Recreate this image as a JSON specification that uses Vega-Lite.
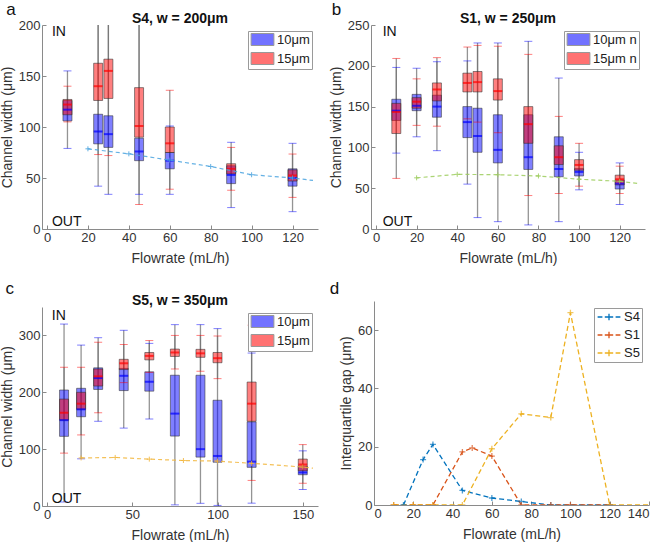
{
  "$schema": "https://vega.github.io/schema/vega-lite/v6.json",
  "padding": {"left": 0, "top": 1, "right": 0, "bottom": 0},
  "columns": 2,
  "align": "none",
  "spacing": {"row": 15, "column": 11},
  "resolve": {"scale": {"fill": "independent", "color": "independent"}, "legend": {"fill": "independent", "color": "independent"}},
  "config": {
    "font": "Liberation Sans",
    "view": {"stroke": null},
    "axis": {"domainColor": "#8a8a8a", "tickColor": "#8a8a8a", "labelColor": "#333333", "titleColor": "#333333", "labelFontSize": 13, "titleFontSize": 14, "titleFontWeight": "normal", "grid": false, "tickSize": -4, "labelPadding": 6},
    "axisY": {"titlePadding": 4},
    "axisX": {"titlePadding": 7},
    "title": {"fontSize": 14, "fontWeight": "bold", "color": "#111111", "offset": -25, "frame": "group"},
    "legend": {"title": null, "orient": "top-right", "offset": 6, "strokeColor": "#9a9a9a", "fillColor": "white", "padding": 2, "labelFontSize": 13, "labelColor": "#222222", "rowPadding": 2}
  },
  "datasets": {
    "boxA": [
      {"f": 10, "g": "10μm", "lo": 79, "q1": 106, "med": 117, "q3": 126, "hi": 155},
      {"f": 10, "g": "15μm", "lo": 105, "q1": 112, "med": 122, "q3": 127, "hi": 140},
      {"f": 25, "g": "10μm", "lo": 42, "q1": 83.5, "med": 95.6, "q3": 112.5, "hi": 230},
      {"f": 25, "g": "15μm", "lo": 73, "q1": 126, "med": 140, "q3": 162.5, "hi": 215},
      {"f": 30, "g": "10μm", "lo": 34, "q1": 80, "med": 93, "q3": 111, "hi": 240},
      {"f": 30, "g": "15μm", "lo": 72, "q1": 128, "med": 155, "q3": 166.5, "hi": 220},
      {"f": 45, "g": "10μm", "lo": 34, "q1": 67, "med": 76, "q3": 89, "hi": 210},
      {"f": 45, "g": "15μm", "lo": 24, "q1": 90, "med": 101, "q3": 138.6, "hi": 230},
      {"f": 60, "g": "10μm", "lo": 34, "q1": 59, "med": 67, "q3": 75, "hi": 101},
      {"f": 60, "g": "15μm", "lo": 39, "q1": 75, "med": 84, "q3": 100, "hi": 136},
      {"f": 90, "g": "10μm", "lo": 21, "q1": 44.5, "med": 53, "q3": 62, "hi": 85},
      {"f": 90, "g": "15μm", "lo": 38, "q1": 54, "med": 59, "q3": 64, "hi": 80},
      {"f": 120, "g": "10μm", "lo": 17, "q1": 42, "med": 50, "q3": 59, "hi": 84},
      {"f": 120, "g": "15μm", "lo": 31, "q1": 47, "med": 52.5, "q3": 58, "hi": 73.5}
    ],
    "thrA": [
      {"f": 20, "v": 78.6}, {"f": 40, "v": 73.7}, {"f": 60, "v": 67.5}, {"f": 80, "v": 61.3},
      {"f": 100, "v": 53.2}, {"f": 120, "v": 50}, {"f": 130, "v": 47.6}
    ],
    "boxB": [
      {"f": 10, "g": "10μm", "lo": 93, "q1": 133, "med": 145, "q3": 159, "hi": 198},
      {"f": 10, "g": "15μm", "lo": 62, "q1": 117, "med": 143.5, "q3": 154, "hi": 209},
      {"f": 20, "g": "10μm", "lo": 113, "q1": 145, "med": 151, "q3": 165, "hi": 197},
      {"f": 20, "g": "15μm", "lo": 127, "q1": 148, "med": 156, "q3": 161, "hi": 184},
      {"f": 30, "g": "10μm", "lo": 96, "q1": 137, "med": 150, "q3": 164, "hi": 205},
      {"f": 30, "g": "15μm", "lo": 126, "q1": 157, "med": 171, "q3": 179, "hi": 210},
      {"f": 45, "g": "10μm", "lo": 55, "q1": 112, "med": 131, "q3": 150, "hi": 206},
      {"f": 45, "g": "15μm", "lo": 135, "q1": 168, "med": 179, "q3": 191, "hi": 223},
      {"f": 50, "g": "10μm", "lo": 14, "q1": 94, "med": 114, "q3": 148, "hi": 228},
      {"f": 50, "g": "15μm", "lo": 131, "q1": 168, "med": 180, "q3": 193, "hi": 225},
      {"f": 60, "g": "10μm", "lo": 9, "q1": 81, "med": 97, "q3": 140, "hi": 228},
      {"f": 60, "g": "15μm", "lo": 118, "q1": 158, "med": 169, "q3": 184, "hi": 224},
      {"f": 75, "g": "10μm", "lo": 5, "q1": 73, "med": 88, "q3": 140, "hi": 230},
      {"f": 75, "g": "15μm", "lo": 41, "q1": 105, "med": 128.5, "q3": 150, "hi": 214},
      {"f": 90, "g": "10μm", "lo": 9, "q1": 64, "med": 73.5, "q3": 113, "hi": 185},
      {"f": 90, "g": "15μm", "lo": 43.5, "q1": 79, "med": 88, "q3": 102, "hi": 138},
      {"f": 100, "g": "10μm", "lo": 48, "q1": 65, "med": 70, "q3": 74, "hi": 94},
      {"f": 100, "g": "15μm", "lo": 52.5, "q1": 72, "med": 78.5, "q3": 85, "hi": 105},
      {"f": 120, "g": "10μm", "lo": 30, "q1": 49, "med": 55.5, "q3": 60, "hi": 81},
      {"f": 120, "g": "15μm", "lo": 43.5, "q1": 54, "med": 61, "q3": 66, "hi": 77}
    ],
    "thrB": [
      {"f": 20, "v": 62.7}, {"f": 40, "v": 67}, {"f": 60, "v": 66.5}, {"f": 80, "v": 65},
      {"f": 100, "v": 61}, {"f": 120, "v": 58.5}, {"f": 130, "v": 55.4}
    ],
    "boxC": [
      {"f": 10, "g": "10μm", "lo": 7, "q1": 122.5, "med": 151, "q3": 204, "hi": 320},
      {"f": 10, "g": "15μm", "lo": 93, "q1": 151, "med": 164, "q3": 188, "hi": 244},
      {"f": 20, "g": "10μm", "lo": 83, "q1": 157, "med": 170, "q3": 207, "hi": 283},
      {"f": 20, "g": "15μm", "lo": 125, "q1": 170, "med": 180, "q3": 200, "hi": 244},
      {"f": 30, "g": "10μm", "lo": 149, "q1": 205, "med": 225, "q3": 243, "hi": 296},
      {"f": 30, "g": "15μm", "lo": 164, "q1": 211, "med": 228, "q3": 241, "hi": 288},
      {"f": 45, "g": "10μm", "lo": 137, "q1": 203, "med": 229, "q3": 242, "hi": 309},
      {"f": 45, "g": "15μm", "lo": 217, "q1": 240, "med": 251, "q3": 258, "hi": 284},
      {"f": 60, "g": "10μm", "lo": 153, "q1": 202, "med": 218.5, "q3": 236, "hi": 286},
      {"f": 60, "g": "15μm", "lo": 235, "q1": 257, "med": 264, "q3": 270, "hi": 291},
      {"f": 75, "g": "10μm", "lo": 2, "q1": 123, "med": 162.5, "q3": 230, "hi": 319},
      {"f": 75, "g": "15μm", "lo": 241, "q1": 263, "med": 270, "q3": 276, "hi": 300},
      {"f": 90, "g": "10μm", "lo": 4.7, "q1": 86, "med": 100, "q3": 230, "hi": 319},
      {"f": 90, "g": "15μm", "lo": 237, "q1": 261.5, "med": 268.5, "q3": 275.5, "hi": 300},
      {"f": 100, "g": "10μm", "lo": 1, "q1": 77, "med": 88, "q3": 186, "hi": 312},
      {"f": 100, "g": "15μm", "lo": 224, "q1": 252, "med": 260, "q3": 270, "hi": 299},
      {"f": 120, "g": "10μm", "lo": 5, "q1": 68, "med": 78, "q3": 148, "hi": 269},
      {"f": 120, "g": "15μm", "lo": 45, "q1": 149, "med": 180, "q3": 218, "hi": 318},
      {"f": 150, "g": "10μm", "lo": 29, "q1": 55, "med": 59, "q3": 70, "hi": 97},
      {"f": 150, "g": "15μm", "lo": 40, "q1": 62, "med": 73, "q3": 82.5, "hi": 108}
    ],
    "thrC": [
      {"f": 20, "v": 84.5}, {"f": 40, "v": 85.4}, {"f": 60, "v": 82.4}, {"f": 80, "v": 80},
      {"f": 100, "v": 79}, {"f": 120, "v": 75}, {"f": 150, "v": 68.5}, {"f": 156, "v": 66.5}
    ],
    "gap": [
      {"s": "S4", "f": 15, "v": 0}, {"s": "S4", "f": 25, "v": 15.6}, {"s": "S4", "f": 30, "v": 20.8},
      {"s": "S4", "f": 45, "v": 5}, {"s": "S4", "f": 60, "v": 2.4}, {"s": "S4", "f": 75, "v": 1.2},
      {"s": "S4", "f": 90, "v": 0}, {"s": "S4", "f": 120, "v": 0},
      {"s": "S1", "f": 10, "v": 0}, {"s": "S1", "f": 20, "v": 0}, {"s": "S1", "f": 30, "v": 0},
      {"s": "S1", "f": 45, "v": 18.2}, {"s": "S1", "f": 50, "v": 19.6}, {"s": "S1", "f": 60, "v": 16.8},
      {"s": "S1", "f": 75, "v": 0}, {"s": "S1", "f": 90, "v": 0}, {"s": "S1", "f": 100, "v": 0},
      {"s": "S1", "f": 120, "v": 0},
      {"s": "S5", "f": 10, "v": 0}, {"s": "S5", "f": 20, "v": 0}, {"s": "S5", "f": 30, "v": 0},
      {"s": "S5", "f": 45, "v": 0}, {"s": "S5", "f": 60, "v": 19.3}, {"s": "S5", "f": 75, "v": 31.3},
      {"s": "S5", "f": 90, "v": 30}, {"s": "S5", "f": 100, "v": 66}, {"s": "S5", "f": 120, "v": 0},
      {"s": "S5", "f": 150, "v": 0}
    ]
  },
  "concat": [
    {
      "width": 276, "height": 204,
      "title": {"text": "S4, w = 200μm"},
      "encoding": {"x": {"field": "f", "type": "quantitative", "title": "Flowrate (mL/h)", "scale": {"domain": [0, 130], "nice": false, "zero": false}, "axis": {"values": [0, 20, 40, 60, 80, 100, 120]}}},
      "layer": [
        {"data": {"name": "boxA"}, "mark": {"type": "rule", "color": "#707070", "strokeWidth": 1.3, "opacity": 0.75, "clip": true},
         "encoding": {"y": {"field": "lo", "type": "quantitative", "title": "Channel width (μm)", "scale": {"domain": [0, 200], "nice": false}, "axis": {"values": [0, 50, 100, 150, 200]}}, "y2": {"field": "hi"}}},
        {"data": {"name": "boxA"}, "mark": {"type": "bar", "size": 9, "fillOpacity": 0.5, "stroke": "#303030", "strokeOpacity": 0.55, "strokeWidth": 1, "clip": true},
         "encoding": {"y": {"field": "q1", "type": "quantitative", "title": "Channel width (μm)", "scale": {"domain": [0, 200], "nice": false}}, "y2": {"field": "q3"},
           "fill": {"field": "g", "type": "nominal", "scale": {"domain": ["10μm", "15μm"], "range": ["#0000ff", "#ff0000"]},
             "legend": {"symbolType": "M-1.9,-1H1.9V1H-1.9Z", "symbolSize": 144, "symbolOffset": 6, "labelOffset": 8, "symbolOpacity": 0.55, "symbolStrokeColor": "#444444", "symbolStrokeWidth": 1}}}},
        {"data": {"name": "boxA"}, "mark": {"type": "tick", "orient": "horizontal", "size": 9, "thickness": 2},
         "encoding": {"y": {"field": "med", "type": "quantitative", "title": "Channel width (μm)", "scale": {"domain": [0, 200], "nice": false}},
           "color": {"field": "g", "type": "nominal", "scale": {"domain": ["10μm", "15μm"], "range": ["#0000ff", "#ff0000"]}, "legend": null}}},
        {"data": {"name": "boxA"}, "mark": {"type": "tick", "orient": "horizontal", "size": 8, "thickness": 1, "opacity": 0.5, "clip": true},
         "encoding": {"y": {"field": "lo", "type": "quantitative", "title": "Channel width (μm)", "scale": {"domain": [0, 200], "nice": false}},
           "color": {"field": "g", "type": "nominal", "scale": {"domain": ["10μm", "15μm"], "range": ["#0000ff", "#ff0000"]}, "legend": null}}},
        {"data": {"name": "boxA"}, "mark": {"type": "tick", "orient": "horizontal", "size": 8, "thickness": 1, "opacity": 0.5, "clip": true},
         "encoding": {"y": {"field": "hi", "type": "quantitative", "title": "Channel width (μm)", "scale": {"domain": [0, 200], "nice": false}},
           "color": {"field": "g", "type": "nominal", "scale": {"domain": ["10μm", "15μm"], "range": ["#0000ff", "#ff0000"]}, "legend": null}}},
        {"data": {"name": "thrA"}, "mark": {"type": "line", "color": "#4aa3df", "strokeDash": [4, 3], "strokeWidth": 1.2, "opacity": 0.85, "clip": true},
         "encoding": {"y": {"field": "v", "type": "quantitative", "title": "Channel width (μm)", "scale": {"domain": [0, 200], "nice": false}}}},
        {"data": {"name": "thrA"}, "transform": [{"filter": "datum.f < 125"}], "mark": {"type": "point", "shape": "M-1,0H1M0,-1V1", "size": 25, "filled": false, "color": "#4aa3df", "strokeWidth": 1, "opacity": 0.85},
         "encoding": {"y": {"field": "v", "type": "quantitative", "title": "Channel width (μm)", "scale": {"domain": [0, 200], "nice": false}}}},
        {"data": {"values": [{"f": 2.4, "v": 193, "t": "IN"}, {"f": 2.4, "v": 7, "t": "OUT"}]}, "mark": {"type": "text", "fontSize": 14, "align": "left", "baseline": "middle", "color": "#111111"},
         "encoding": {"y": {"field": "v", "type": "quantitative", "title": "Channel width (μm)", "scale": {"domain": [0, 200], "nice": false}}, "text": {"field": "t"}}},
        {"data": {"values": [{"f": -17.6, "v": 214.7, "t": "a"}]}, "mark": {"type": "text", "fontSize": 17, "align": "center", "baseline": "middle", "color": "#111111"},
         "encoding": {"y": {"field": "v", "type": "quantitative", "title": "Channel width (μm)", "scale": {"domain": [0, 200], "nice": false}}, "text": {"field": "t"}}}
      ]
    },
    {
      "width": 274, "height": 204,
      "title": {"text": "S1, w = 250μm"},
      "encoding": {"x": {"field": "f", "type": "quantitative", "title": "Flowrate (mL/h)", "scale": {"domain": [0, 130], "nice": false, "zero": false}, "axis": {"values": [0, 20, 40, 60, 80, 100, 120]}}},
      "layer": [
        {"data": {"name": "boxB"}, "mark": {"type": "rule", "color": "#707070", "strokeWidth": 1.3, "opacity": 0.75, "clip": true},
         "encoding": {"y": {"field": "lo", "type": "quantitative", "title": "Channel width (μm)", "scale": {"domain": [0, 250], "nice": false}, "axis": {"values": [0, 50, 100, 150, 200, 250]}}, "y2": {"field": "hi"}}},
        {"data": {"name": "boxB"}, "mark": {"type": "bar", "size": 9, "fillOpacity": 0.5, "stroke": "#303030", "strokeOpacity": 0.55, "strokeWidth": 1, "clip": true},
         "encoding": {"y": {"field": "q1", "type": "quantitative", "title": "Channel width (μm)", "scale": {"domain": [0, 250], "nice": false}}, "y2": {"field": "q3"},
           "fill": {"field": "g", "type": "nominal", "scale": {"domain": ["10μm", "15μm"], "range": ["#0000ff", "#ff0000"]},
             "legend": {"symbolType": "M-1.9,-1H1.9V1H-1.9Z", "symbolSize": 144, "symbolOffset": 6, "labelOffset": 8, "symbolOpacity": 0.55, "symbolStrokeColor": "#444444", "symbolStrokeWidth": 1, "labelExpr": "datum.label + ' n'"}}}},
        {"data": {"name": "boxB"}, "mark": {"type": "tick", "orient": "horizontal", "size": 9, "thickness": 2},
         "encoding": {"y": {"field": "med", "type": "quantitative", "title": "Channel width (μm)", "scale": {"domain": [0, 250], "nice": false}},
           "color": {"field": "g", "type": "nominal", "scale": {"domain": ["10μm", "15μm"], "range": ["#0000ff", "#ff0000"]}, "legend": null}}},
        {"data": {"name": "boxB"}, "mark": {"type": "tick", "orient": "horizontal", "size": 8, "thickness": 1, "opacity": 0.5, "clip": true},
         "encoding": {"y": {"field": "lo", "type": "quantitative", "title": "Channel width (μm)", "scale": {"domain": [0, 250], "nice": false}},
           "color": {"field": "g", "type": "nominal", "scale": {"domain": ["10μm", "15μm"], "range": ["#0000ff", "#ff0000"]}, "legend": null}}},
        {"data": {"name": "boxB"}, "mark": {"type": "tick", "orient": "horizontal", "size": 8, "thickness": 1, "opacity": 0.5, "clip": true},
         "encoding": {"y": {"field": "hi", "type": "quantitative", "title": "Channel width (μm)", "scale": {"domain": [0, 250], "nice": false}},
           "color": {"field": "g", "type": "nominal", "scale": {"domain": ["10μm", "15μm"], "range": ["#0000ff", "#ff0000"]}, "legend": null}}},
        {"data": {"name": "thrB"}, "mark": {"type": "line", "color": "#9ccc5c", "strokeDash": [4, 3], "strokeWidth": 1.2, "opacity": 0.85, "clip": true},
         "encoding": {"y": {"field": "v", "type": "quantitative", "title": "Channel width (μm)", "scale": {"domain": [0, 250], "nice": false}}}},
        {"data": {"name": "thrB"}, "transform": [{"filter": "datum.f < 125"}], "mark": {"type": "point", "shape": "M-1,0H1M0,-1V1", "size": 25, "filled": false, "color": "#9ccc5c", "strokeWidth": 1, "opacity": 0.85},
         "encoding": {"y": {"field": "v", "type": "quantitative", "title": "Channel width (μm)", "scale": {"domain": [0, 250], "nice": false}}}},
        {"data": {"values": [{"f": 3.3, "v": 241, "t": "IN"}, {"f": 3.3, "v": 8.2, "t": "OUT"}]}, "mark": {"type": "text", "fontSize": 14, "align": "left", "baseline": "middle", "color": "#111111"},
         "encoding": {"y": {"field": "v", "type": "quantitative", "title": "Channel width (μm)", "scale": {"domain": [0, 250], "nice": false}}, "text": {"field": "t"}}},
        {"data": {"values": [{"f": -19.4, "v": 268, "t": "b"}]}, "mark": {"type": "text", "fontSize": 17, "align": "center", "baseline": "middle", "color": "#111111"},
         "encoding": {"y": {"field": "v", "type": "quantitative", "title": "Channel width (μm)", "scale": {"domain": [0, 250], "nice": false}}, "text": {"field": "t"}}}
      ]
    },
    {
      "width": 276, "height": 199,
      "title": {"text": "S5, w = 350μm", "offset": -28},
      "encoding": {"x": {"field": "f", "type": "quantitative", "title": "Flowrate (mL/h)", "scale": {"domain": [0, 156], "nice": false, "zero": false}, "axis": {"values": [0, 50, 100, 150]}}},
      "layer": [
        {"data": {"name": "boxC"}, "mark": {"type": "rule", "color": "#707070", "strokeWidth": 1.3, "opacity": 0.75, "clip": true},
         "encoding": {"y": {"field": "lo", "type": "quantitative", "title": "Channel width (μm)", "scale": {"domain": [0, 350], "nice": false}, "axis": {"values": [0, 50, 100, 150, 200, 250, 300, 350]}}, "y2": {"field": "hi"}}},
        {"data": {"name": "boxC"}, "mark": {"type": "bar", "size": 9, "fillOpacity": 0.5, "stroke": "#303030", "strokeOpacity": 0.55, "strokeWidth": 1, "clip": true},
         "encoding": {"y": {"field": "q1", "type": "quantitative", "title": "Channel width (μm)", "scale": {"domain": [0, 350], "nice": false}}, "y2": {"field": "q3"},
           "fill": {"field": "g", "type": "nominal", "scale": {"domain": ["10μm", "15μm"], "range": ["#0000ff", "#ff0000"]},
             "legend": {"symbolType": "M-1.9,-1H1.9V1H-1.9Z", "symbolSize": 144, "symbolOffset": 6, "labelOffset": 8, "symbolOpacity": 0.55, "symbolStrokeColor": "#444444", "symbolStrokeWidth": 1}}}},
        {"data": {"name": "boxC"}, "mark": {"type": "tick", "orient": "horizontal", "size": 9, "thickness": 2},
         "encoding": {"y": {"field": "med", "type": "quantitative", "title": "Channel width (μm)", "scale": {"domain": [0, 350], "nice": false}},
           "color": {"field": "g", "type": "nominal", "scale": {"domain": ["10μm", "15μm"], "range": ["#0000ff", "#ff0000"]}, "legend": null}}},
        {"data": {"name": "boxC"}, "mark": {"type": "tick", "orient": "horizontal", "size": 8, "thickness": 1, "opacity": 0.5, "clip": true},
         "encoding": {"y": {"field": "lo", "type": "quantitative", "title": "Channel width (μm)", "scale": {"domain": [0, 350], "nice": false}},
           "color": {"field": "g", "type": "nominal", "scale": {"domain": ["10μm", "15μm"], "range": ["#0000ff", "#ff0000"]}, "legend": null}}},
        {"data": {"name": "boxC"}, "mark": {"type": "tick", "orient": "horizontal", "size": 8, "thickness": 1, "opacity": 0.5, "clip": true},
         "encoding": {"y": {"field": "hi", "type": "quantitative", "title": "Channel width (μm)", "scale": {"domain": [0, 350], "nice": false}},
           "color": {"field": "g", "type": "nominal", "scale": {"domain": ["10μm", "15μm"], "range": ["#0000ff", "#ff0000"]}, "legend": null}}},
        {"data": {"name": "thrC"}, "mark": {"type": "line", "color": "#f2b63c", "strokeDash": [4, 3], "strokeWidth": 1.2, "opacity": 0.85, "clip": true},
         "encoding": {"y": {"field": "v", "type": "quantitative", "title": "Channel width (μm)", "scale": {"domain": [0, 350], "nice": false}}}},
        {"data": {"name": "thrC"}, "transform": [{"filter": "datum.f < 155"}], "mark": {"type": "point", "shape": "M-1,0H1M0,-1V1", "size": 25, "filled": false, "color": "#f2b63c", "strokeWidth": 1, "opacity": 0.85},
         "encoding": {"y": {"field": "v", "type": "quantitative", "title": "Channel width (μm)", "scale": {"domain": [0, 350], "nice": false}}}},
        {"data": {"values": [{"f": 2.8, "v": 334, "t": "IN"}, {"f": 2.8, "v": 12.3, "t": "OUT"}]}, "mark": {"type": "text", "fontSize": 14, "align": "left", "baseline": "middle", "color": "#111111"},
         "encoding": {"y": {"field": "v", "type": "quantitative", "title": "Channel width (μm)", "scale": {"domain": [0, 350], "nice": false}}, "text": {"field": "t"}}},
        {"data": {"values": [{"f": -21.8, "v": 380.8, "t": "c"}]}, "mark": {"type": "text", "fontSize": 17, "align": "center", "baseline": "middle", "color": "#111111"},
         "encoding": {"y": {"field": "v", "type": "quantitative", "title": "Channel width (μm)", "scale": {"domain": [0, 350], "nice": false}}, "text": {"field": "t"}}}
      ]
    },
    {
      "width": 275, "height": 204,
      "encoding": {"x": {"field": "f", "type": "quantitative", "title": "Flowrate (mL/h)", "scale": {"domain": [0, 140], "nice": false, "zero": false}, "axis": {"values": [0, 20, 40, 60, 80, 100, 120, 140]}}},
      "layer": [
        {"data": {"name": "gap"}, "mark": {"type": "line", "strokeDash": [5, 3], "strokeWidth": 1.3, "clip": true},
         "encoding": {"y": {"field": "v", "type": "quantitative", "title": "Interquartile gap (μm)", "scale": {"domain": [0, 70], "nice": false}, "axis": {"values": [0, 10, 20, 30, 40, 50, 60, 70]}},
           "color": {"field": "s", "type": "nominal", "scale": {"domain": ["S4", "S1", "S5"], "range": ["#0072BD", "#D95319", "#EDB120"]},
             "legend": {"symbolType": "M-1.9,0H-1.1M-0.7,0H0.7M1.1,0H1.9M0,-0.55V0.55", "symbolSize": 144, "symbolOffset": 6, "labelOffset": 8, "symbolStrokeWidth": 1.3, "offset": 7, "rowPadding": 4}}}},
        {"data": {"name": "gap"}, "mark": {"type": "point", "shape": "M-1,0H1M0,-1V1", "size": 36, "filled": false, "strokeWidth": 1.3, "clip": true},
         "encoding": {"y": {"field": "v", "type": "quantitative", "title": "Interquartile gap (μm)", "scale": {"domain": [0, 70], "nice": false}},
           "color": {"field": "s", "type": "nominal", "scale": {"domain": ["S4", "S1", "S5"], "range": ["#0072BD", "#D95319", "#EDB120"]}, "legend": null}}},
        {"data": {"values": [{"f": -20.1, "v": 74.1, "t": "d"}]}, "mark": {"type": "text", "fontSize": 17, "align": "center", "baseline": "middle", "color": "#111111"},
         "encoding": {"y": {"field": "v", "type": "quantitative", "title": "Interquartile gap (μm)", "scale": {"domain": [0, 70], "nice": false}}, "text": {"field": "t"}}}
      ]
    }
  ]
}
